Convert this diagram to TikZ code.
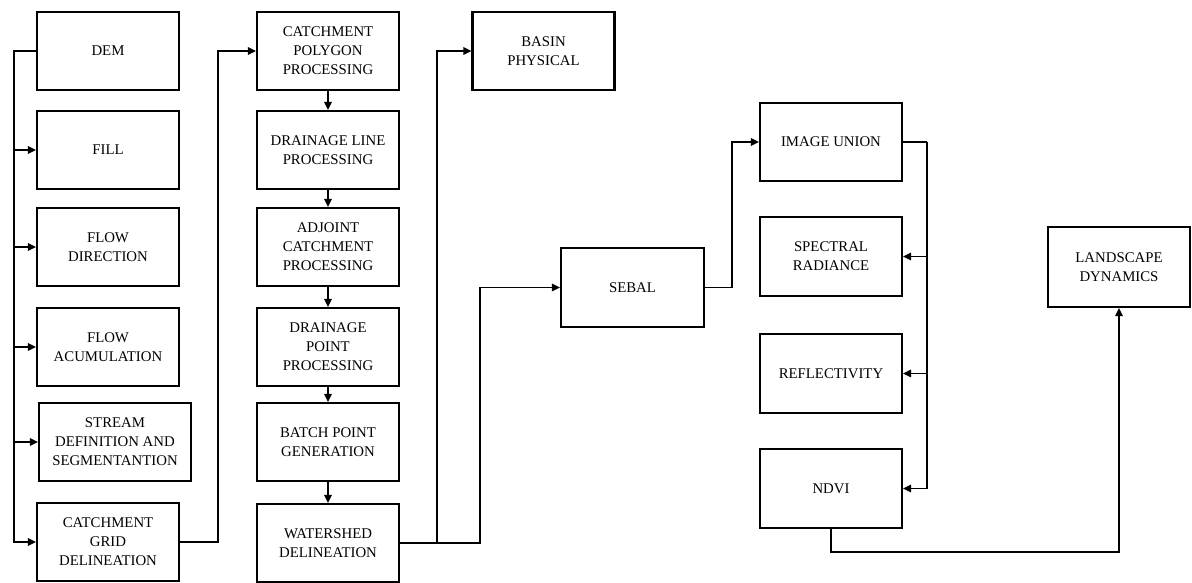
\documentclass[tikz,border=0pt]{standalone}
\usepackage{fontspec}
\setmainfont{Liberation Serif}
\usetikzlibrary{arrows.meta}
\begin{document}
\begin{tikzpicture}[x=1pt,y=-1pt,
  box/.style={draw=black, line width=2.2pt, fill=white, align=center, inner sep=2pt,
    font=\fontsize{14.8}{19}\selectfont, minimum width=142pt, minimum height=78pt},
  conn/.style={draw=black, line width=1.3pt},
  arr/.style={conn, -{Triangle[length=8pt,width=7.5pt]}}]
\useasboundingbox (0,0) rectangle (1192,583);
% column 1
\node[box] (dem) at (108,51) {DEM};
\node[box] (fill) at (108,150) {FILL};
\node[box] (fdir) at (108,247) {FLOW\\DIRECTION};
\node[box] (facc) at (108,347) {FLOW\\ACUMULATION};
\node[box, minimum width=152pt] (stream) at (115,442) {STREAM\\DEFINITION AND\\SEGMENTANTION};
\node[box] (cgrid) at (108,542) {CATCHMENT\\GRID\\DELINEATION};
% column 2
\node[box] (poly) at (328,51) {CATCHMENT\\POLYGON\\PROCESSING};
\node[box] (dline) at (328,150) {DRAINAGE LINE\\PROCESSING};
\node[box] (adj) at (328,247) {ADJOINT\\CATCHMENT\\PROCESSING};
\node[box] (dpoint) at (328,347) {DRAINAGE\\POINT\\PROCESSING};
\node[box] (batch) at (328,442) {BATCH POINT\\GENERATION};
\node[box] (ws) at (328,543) {WATERSHED\\DELINEATION};
% others
\node[box] (basin) at (543.5,51) {BASIN\\PHYSICAL};
\node[box, minimum width=143pt, minimum height=79pt] (sebal) at (632.5,287.5) {SEBAL};
\node[box] (iu) at (831,142) {IMAGE UNION};
\node[box, minimum height=79pt] (sr) at (831,256.5) {SPECTRAL\\RADIANCE};
\node[box, minimum height=79pt] (refl) at (831,373.5) {REFLECTIVITY};
\node[box, minimum height=79pt] (ndvi) at (831,488.5) {NDVI};
\node[box, minimum height=80pt] (ld) at (1119,267) {LANDSCAPE\\DYNAMICS};
% bus left
\coordinate (bt) at (14,51);
\draw[conn] (dem.west) -- (bt) -- (14,542);
\foreach \t in {fill,fdir,facc,stream,cgrid}
  \draw[arr] (bt) |- (\t.west);
% col1 -> col2
\draw[arr] (cgrid.east) -- (218,542) |- (poly.west);
\draw[arr] (poly.south) -- (dline.north);
\draw[arr] (dline.south) -- (adj.north);
\draw[arr] (adj.south) -- (dpoint.north);
\draw[arr] (dpoint.south) -- (batch.north);
\draw[arr] (batch.south) -- (ws.north);
% watershed outputs
\draw[arr] (ws.east) -- (437,543) |- (basin.west);
\draw[arr] (ws.east) -- (480,543) |- (sebal.west);
% sebal
\draw[arr] (sebal.east) -- (732,287.5) |- (iu.west);
% right bus
\coordinate (rb) at (927,142);
\draw[conn] (iu.east) -- (rb);
\foreach \t in {sr,refl,ndvi}
  \draw[arr] (rb) |- (\t.east);
% ndvi -> landscape
\draw[arr] (ndvi.south) -- (831,552) -| (ld.south);
\end{tikzpicture}
\end{document}
